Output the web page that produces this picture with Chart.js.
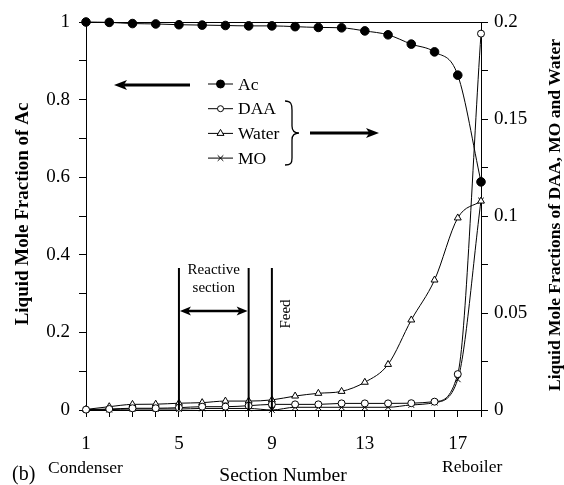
<!DOCTYPE html>
<html>
<head>
<meta charset="utf-8">
<script src="https://cdn.jsdelivr.net/npm/chart.js@4.4.1/dist/chart.umd.min.js"></script>
<style>
  html, body { margin: 0; padding: 0; background: #fff; }
  #wrap { width: 564px; height: 485px; }
</style>
</head>
<body>
<div id="wrap"><canvas id="graph" width="564" height="485"></canvas></div>
<script>
// section numbers (1 = condenser, 18 = reboiler)
const sections = [1, 2, 3, 4, 5, 6, 7, 8, 9, 10, 11, 12, 13, 14, 15, 16, 17, 18];
// left axis
const ac = [1.0, 0.999, 0.996, 0.995, 0.993, 0.992, 0.991, 0.990, 0.990, 0.988, 0.986, 0.985, 0.977, 0.967, 0.943, 0.923, 0.863, 0.588];
// right axis
const daa = [0.0002, 0.0005, 0.0009, 0.0009, 0.0012, 0.0017, 0.0017, 0.0022, 0.0029, 0.0029, 0.0029, 0.0034, 0.0034, 0.0034, 0.0035, 0.0043, 0.0185, 0.194];
const water = [0.0003, 0.0017, 0.0029, 0.003, 0.0035, 0.0038, 0.0046, 0.0046, 0.0052, 0.0072, 0.0086, 0.0096, 0.0143, 0.0235, 0.0464, 0.067, 0.099, 0.1077];
const mo = [0.0001, 0.0002, 0.0005, 0.0005, 0.0005, 0.0008, 0.0008, 0.0008, 0, 0.0014, 0.0014, 0.0014, 0.0014, 0.0014, 0.0026, 0.0038, 0.0158, 0.108];

const xLabels = [1, 5, 9, 13, 17];
const reactiveFrom = 5, reactiveTo = 8, feedAt = 9;
const markTop = 0.366;   // top of the vertical marker lines (left axis units)
const arrowLevel = 0.255;

const SERIF = '"Liberation Serif", "Times New Roman", serif';

const pts = (ys) => sections.map((x, i) => ({x: x, y: ys[i]}));

function mkSet(label, ys, axis, style, fill, r) {
  return {
    label: label, data: pts(ys), yAxisID: axis,
    borderColor: '#000', borderWidth: 1,
    pointStyle: style, pointRadius: r, pointHoverRadius: r,
    pointBackgroundColor: fill, pointBorderColor: '#000', pointBorderWidth: 1,
    cubicInterpolationMode: 'monotone', clip: false, fill: false
  };
}

function marker(ctx, style, x, y, r, fill) {
  ctx.save();
  ctx.lineWidth = 1;
  ctx.strokeStyle = '#000';
  ctx.fillStyle = fill;
  ctx.beginPath();
  if (style == 'circle') {
    ctx.arc(x, y, r, 0, Math.PI * 2);
    ctx.fill(); ctx.stroke();
  } else if (style == 'triangle') {
    ctx.moveTo(x, y - r);
    ctx.lineTo(x + r * 0.87, y + r * 0.5);
    ctx.lineTo(x - r * 0.87, y + r * 0.5);
    ctx.closePath();
    ctx.fill(); ctx.stroke();
  } else {
    const d = r * 0.7;
    ctx.moveTo(x - d, y - d); ctx.lineTo(x + d, y + d);
    ctx.moveTo(x + d, y - d); ctx.lineTo(x - d, y + d);
    ctx.stroke();
  }
  ctx.restore();
}

function arrowHead(ctx, tipX, tipY, dir, len, half) {
  ctx.beginPath();
  ctx.moveTo(tipX, tipY);
  ctx.lineTo(tipX - dir * len, tipY - half);
  ctx.lineTo(tipX - dir * len * 0.75, tipY);
  ctx.lineTo(tipX - dir * len, tipY + half);
  ctx.closePath();
  ctx.fill();
}

const decor = {
  id: 'decor',
  afterDraw(chart) {
    const ctx = chart.ctx;
    const a = chart.chartArea;
    const sx = chart.scales.x, sy = chart.scales.y;
    ctx.save();
    ctx.strokeStyle = '#000';
    ctx.fillStyle = '#000';

    // top frame line
    ctx.lineWidth = 1;
    ctx.beginPath();
    ctx.moveTo(a.left, a.top + 0.5); ctx.lineTo(a.right, a.top + 0.5);
    ctx.stroke();

    // reactive section / feed markers
    ctx.lineWidth = 2;
    [reactiveFrom, reactiveTo, feedAt].forEach(v => {
      const px = sx.getPixelForValue(v);
      ctx.beginPath();
      ctx.moveTo(px, sy.getPixelForValue(0));
      ctx.lineTo(px, sy.getPixelForValue(markTop));
      ctx.stroke();
    });
    const x5 = sx.getPixelForValue(reactiveFrom), x8 = sx.getPixelForValue(reactiveTo);
    const ya = sy.getPixelForValue(arrowLevel);
    ctx.lineWidth = 2.5;
    ctx.beginPath();
    ctx.moveTo(x5 + 6, ya); ctx.lineTo(x8 - 6, ya);
    ctx.stroke();
    arrowHead(ctx, x5 + 1, ya, -1, 11, 4.5);
    arrowHead(ctx, x8 - 1, ya, 1, 11, 4.5);

    ctx.font = '15px ' + SERIF;
    ctx.textAlign = 'center';
    ctx.textBaseline = 'middle';
    ctx.fillText('Reactive', (x5 + x8) / 2, 270);
    ctx.fillText('section', (x5 + x8) / 2, 288);
    ctx.save();
    ctx.translate(sx.getPixelForValue(feedAt) + 14, 314);
    ctx.rotate(-Math.PI / 2);
    ctx.fillText('Feed', 0, 0);
    ctx.restore();

    // legend
    const rows = [
      ['Ac', 'circle', '#000', 4],
      ['DAA', 'circle', '#fff', 3],
      ['Water', 'triangle', '#fff', 4],
      ['MO', 'cross', '#fff', 4]
    ];
    ctx.font = '17.5px ' + SERIF;
    ctx.textAlign = 'left';
    rows.forEach((r, i) => {
      const y = 84 + i * 24.7;
      ctx.lineWidth = 1;
      ctx.beginPath();
      ctx.moveTo(208, y); ctx.lineTo(233, y);
      ctx.stroke();
      marker(ctx, r[1], 220.5, y, r[3], r[2]);
      ctx.fillStyle = '#000';
      ctx.fillText(r[0], 238, y + 1);
    });

    // brace
    ctx.lineWidth = 1.3;
    ctx.beginPath();
    ctx.moveTo(285, 101);
    ctx.bezierCurveTo(291, 101, 292, 104, 292, 110);
    ctx.lineTo(292, 126);
    ctx.bezierCurveTo(292, 131, 295, 133, 299, 133);
    ctx.bezierCurveTo(295, 133, 292, 135, 292, 140);
    ctx.lineTo(292, 158);
    ctx.bezierCurveTo(292, 163, 291, 165, 285, 165);
    ctx.stroke();

    // axis arrows
    ctx.lineWidth = 3;
    ctx.beginPath();
    ctx.moveTo(190, 85); ctx.lineTo(124, 85);
    ctx.stroke();
    arrowHead(ctx, 114, 85, -1, 13, 5);
    ctx.beginPath();
    ctx.moveTo(310, 133); ctx.lineTo(370, 133);
    ctx.stroke();
    arrowHead(ctx, 379, 133, 1, 13, 5);

    // axis titles
    ctx.font = 'bold 19px ' + SERIF;
    ctx.textAlign = 'center';
    ctx.save();
    ctx.translate(23, 214);
    ctx.rotate(-Math.PI / 2);
    ctx.fillText('Liquid Mole Fraction of Ac', 0, 0);
    ctx.restore();
    ctx.font = 'bold 17.5px ' + SERIF;
    ctx.save();
    ctx.translate(555, 215);
    ctx.rotate(-Math.PI / 2);
    ctx.fillText('Liquid Mole Fractions of DAA, MO and Water', 0, 0);
    ctx.restore();

    ctx.textBaseline = 'alphabetic';
    ctx.font = '19.5px ' + SERIF;
    ctx.fillText('Section Number', 283, 481);
    ctx.font = '17.5px ' + SERIF;
    ctx.textAlign = 'left';
    ctx.fillText('Condenser', 48, 473);
    ctx.fillText('Reboiler', 442, 472);
    ctx.font = '20px ' + SERIF;
    ctx.fillText('(b)', 12, 480);
    ctx.restore();
  }
};

const tickFont = {family: SERIF, size: 19};

new Chart(document.getElementById('graph').getContext('2d'), {
  type: 'line',
  data: {
    datasets: [
      mkSet('Ac', ac, 'y', 'circle', '#000', 4.3),
      mkSet('DAA', daa, 'y2', 'circle', '#fff', 3.5),
      mkSet('Water', water, 'y2', 'triangle', '#fff', 4),
      mkSet('MO', mo, 'y2', 'crossRot', '#fff', 4)
    ]
  },
  options: {
    responsive: false,
    animation: false,
    layout: {padding: {top: 22, left: 0, right: 0, bottom: 0}},
    plugins: {legend: {display: false}, tooltip: {enabled: false}},
    scales: {
      x: {
        type: 'linear', min: 1, max: 18,
        afterFit: (s) => { s.height = 75; },
        border: {color: '#000', width: 1},
        grid: {drawOnChartArea: false, drawTicks: true, tickLength: 7, color: '#000'},
        ticks: {
          stepSize: 1, color: '#000', font: tickFont, padding: 16, maxRotation: 0, autoSkip: false,
          callback: (v) => xLabels.includes(v) ? String(v) : ''
        }
      },
      y: {
        position: 'left', min: 0, max: 1,
        afterFit: (s) => { s.width = 86; },
        border: {color: '#000', width: 1},
        grid: {drawOnChartArea: false, drawTicks: true, tickLength: 7, color: '#000'},
        ticks: {
          stepSize: 0.1, color: '#000', font: tickFont, padding: 9, autoSkip: false,
          callback: (v) => Math.round(v * 10) % 2 === 0 ? String(+v.toFixed(1)) : ''
        }
      },
      y2: {
        position: 'right', min: 0, max: 0.2,
        afterFit: (s) => { s.width = 83; },
        border: {color: '#000', width: 1},
        grid: {drawOnChartArea: false, drawTicks: true, tickLength: 7, color: '#000'},
        ticks: {
          stepSize: 0.025, color: '#000', font: tickFont, padding: 6, autoSkip: false,
          callback: (v) => Math.round(v * 1000) % 50 === 0 ? String(+v.toFixed(3)) : ''
        }
      }
    }
  },
  plugins: [decor]
});
</script>
</body>
</html>
